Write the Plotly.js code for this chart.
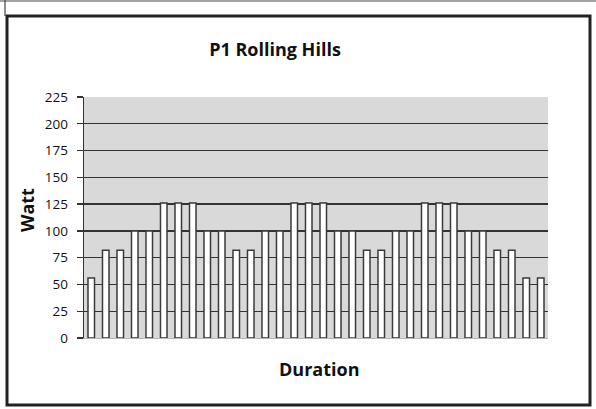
<!DOCTYPE html>
<html>
<head>
<meta charset="utf-8">
<script src="https://cdn.plot.ly/plotly-3.0.1.min.js"></script>
<style>html,body{margin:0;padding:0;background:#fff;}#chart{width:596px;height:409px;}</style>
</head>
<body>
<div id="chart"></div>
<script>
// Data
const intervals = Array.from({length: 32}, (_, i) => i + 1); // interval index (Duration axis, unlabeled)
const watts = [56, 82, 82, 100, 100, 126, 126, 126, 100, 100, 82, 82,
               100, 100, 126, 126, 126, 100, 100, 82, 82, 100, 100, 126,
               126, 126, 100, 100, 82, 82, 56, 56];
const yTicks = [0, 25, 50, 75, 100, 125, 150, 175, 200, 225];
const chartTitle = 'P1 Rolling Hills';
const yTitle = 'Watt';
const xTitle = 'Duration';

// plot area in pixels: x 84..548, y 97..338
const L = 84, R = 48, T = 97, B = 71, W = 596 - L - R, H = 409 - T - B;
const px = x => (x - L) / W;
const py = y => (409 - B - y) / H;

const font = 'Open Sans, Liberation Sans, sans-serif';

const trace = {
  type: 'bar',
  x: intervals,
  y: watts,
  marker: {color: '#ffffff', line: {color: '#3a3a3a', width: 1.5}},
  hoverinfo: 'y'
};

const layout = {
  width: 596, height: 409,
  margin: {l: L, r: R, t: T, b: B, pad: 0},
  paper_bgcolor: '#ffffff',
  plot_bgcolor: '#d9d9d9',
  showlegend: false,
  bargap: 0.55,
  title: {text: '<b>' + chartTitle + '</b>', font: {family: font, size: 18, color: '#111'},
          x: 275 / 596, xanchor: 'center', xref: 'container', y: 1 - 50 / 409, yanchor: 'middle', yref: 'container'},
  xaxis: {
    range: [0.5, 32.5], showticklabels: false, ticks: '', showgrid: false, zeroline: false,
    showline: true, linecolor: '#b5b5b5', linewidth: 1
  },
  yaxis: {
    range: [0, 225], tickvals: yTicks, ticktext: yTicks.map(String),
    tickfont: {family: font, size: 13.5, color: '#111'},
    ticks: 'outside', ticklen: 6, tickcolor: '#333', tickwidth: 1.3, ticklabelstandoff: 6,
    showgrid: true, gridcolor: '#333', gridwidth: 1.4, zeroline: false,
    showline: true, linecolor: '#333', linewidth: 1.4,
    automargin: false
  },
  annotations: [
    {text: '<b>' + yTitle + '</b>', xref: 'paper', yref: 'paper', x: px(27), y: py(210),
     xanchor: 'center', yanchor: 'middle', textangle: -90, showarrow: false,
     font: {family: font, size: 18, color: '#111'}},
    {text: '<b>' + xTitle + '</b>', xref: 'paper', yref: 'paper', x: px(319), y: py(369),
     xanchor: 'center', yanchor: 'middle', showarrow: false,
     font: {family: font, size: 18, color: '#111'}}
  ],
  shapes: [
    // main frame
    {type: 'rect', xref: 'paper', yref: 'paper', x0: px(7), x1: px(590), y0: py(405), y1: py(16),
     line: {color: '#222', width: 3}, layer: 'below'},
    // top thin line of outer frame
    {type: 'line', xref: 'paper', yref: 'paper', x0: px(0), x1: px(596), y0: py(1), y1: py(1),
     line: {color: '#444', width: 1.2}},
    {type: 'line', xref: 'paper', yref: 'paper', x0: px(5), x1: px(5), y0: py(0), y1: py(16),
     line: {color: '#444', width: 1.2}}
  ]
};

Plotly.newPlot('chart', [trace], layout, {displayModeBar: false, staticPlot: true});
</script>
</body>
</html>
